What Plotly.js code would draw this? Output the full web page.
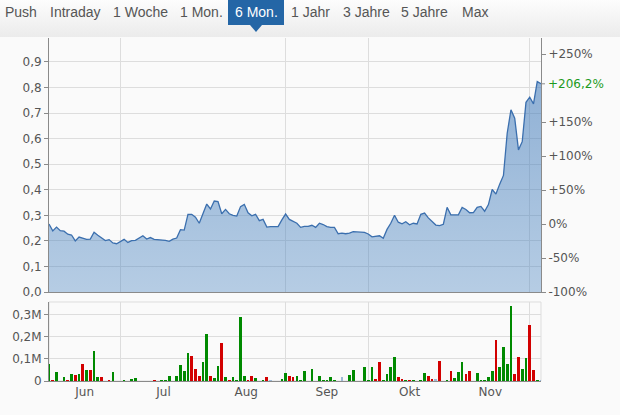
<!DOCTYPE html>
<html><head><meta charset="utf-8">
<script src="https://cdn.plot.ly/plotly-3.0.1.min.js"></script>
<style>
html,body{margin:0;padding:0;}
body{width:620px;height:415px;overflow:hidden;background:linear-gradient(to bottom,#fdfdfd 0px,#ebebeb 37px,#fafafa 37px,#fafafa 100%);}
#chart{width:620px;height:415px;}
</style></head><body><div id="chart"></div>
<script>
// ---------- data ----------
const startDate = '2020-06-04';
const endDate = '2020-12-04';
const prices = [
 0.266,0.239,0.254,0.240,0.238,0.226,0.223,0.200,0.215,0.210,
 0.206,0.207,0.234,0.222,0.213,0.201,0.205,0.192,0.189,0.198,
 0.206,0.194,0.201,0.202,0.210,0.220,0.207,0.213,0.206,0.205,
 0.203,0.202,0.198,0.207,0.211,0.244,0.242,0.304,0.304,0.293,
 0.269,0.304,0.344,0.325,0.356,0.354,0.306,0.323,0.306,0.300,
 0.297,0.334,0.343,0.310,0.298,0.304,0.279,0.284,0.254,0.256,
 0.257,0.256,0.282,0.305,0.284,0.278,0.269,0.253,0.257,0.257,
 0.261,0.253,0.269,0.264,0.256,0.253,0.253,0.228,0.230,0.228,
 0.230,0.236,0.234,0.234,0.233,0.227,0.216,0.219,0.220,0.210,
 0.245,0.269,0.300,0.273,0.267,0.275,0.263,0.269,0.266,0.304,
 0.309,0.290,0.275,0.262,0.260,0.265,0.331,0.302,0.302,0.302,
 0.331,0.323,0.310,0.311,0.331,0.335,0.316,0.342,0.401,0.383,
 0.422,0.456,0.621,0.713,0.680,0.556,0.588,0.742,0.762,0.736,
 0.823,0.8145
];
const volumesK = [
 76,5,40,0,18,4,31,27,31,76,
 50,50,135,18,18,0,5,40,0,0,
 5,0,9,13,0,0,0,0,4,0,
 4,4,22,0,22,72,45,126,112,54,
 22,85,211,22,13,67,171,18,4,18,
 4,288,22,4,22,13,0,4,18,4,
 0,0,9,36,22,18,22,4,45,0,
 54,0,22,4,4,18,4,0,18,0,
 27,50,0,0,63,4,63,9,85,4,
 31,63,108,18,9,4,4,4,0,4,
 36,22,9,9,90,0,4,45,13,40,
 85,31,45,0,36,4,4,18,45,184,
 63,153,76,337,31,108,54,103,252,50,
 4,3
];
// u = up day, d = down day, n = unchanged
const directions = ("uduuududud"+"uduududuuu"+"uuuuuuuudu"+"uuuuuuuudd"+"duuduududu"+
  "uuudduuudn"+"uuuudduuuu"+"uuuuuuuunu"+"uuuuuuuddu"+"uuudduduuu"+
  "uddnduuduu"+"udduuuuuud"+"uuuudduudd"+"un").split('');
const tabs = ['Push','Intraday','1 Woche','1 Mon.','6 Mon.','1 Jahr','3 Jahre','5 Jahre','Max'];
const selectedTab = '6 Mon.';
const pctTicks = [-100,-50,0,50,100,150,250];
const pctLabels = ['-100%','-50%','0%','+50%','+100%','+150%','+250%'];
const volTicks = [0,100000,200000,300000];
const volLabels = ['0','0,1M','0,2M','0,3M'];
const shortMonths = ['Jan','Feb','Mär','Apr','Mai','Jun','Jul','Aug','Sep','Okt','Nov','Dez'];

// ---------- trading calendar (weekdays) ----------
function tradingDays(a, b) {
  const out = []; let d = new Date(a + 'T00:00:00Z'); const e = new Date(b + 'T00:00:00Z');
  while (d <= e) { const w = d.getUTCDay(); if (w !== 0 && w !== 6) out.push(d.toISOString().slice(0, 10)); d = new Date(d.getTime() + 86400000); }
  return out;
}
const dates = tradingDays(startDate, endDate);

// month boundaries (gridlines) and month label positions (centre of visible part)
const monthStarts = [], labelVals = [], labelText = [];
{
  const firstIdx = [];
  dates.forEach((d, i) => { if (i === 0 || d.slice(0, 7) !== dates[i - 1].slice(0, 7)) firstIdx.push(i); });
  firstIdx.forEach((s, k) => {
    const e = k + 1 < firstIdx.length ? firstIdx[k + 1] : dates.length - 1;
    if (s > 0) monthStarts.push(dates[s].slice(0, 7) + '-01');
    if (e - s >= 5) {
      const mid = (s + e) / 2, i0 = Math.floor(mid), frac = mid - i0;
      const t = new Date(dates[i0] + 'T00:00:00Z').getTime() + frac * 86400000;
      labelVals.push(new Date(t).toISOString().slice(0, 19).replace('T', ' '));
      labelText.push(shortMonths[parseInt(dates[s].slice(5, 7), 10) - 1]);
    }
  });
}

// ---------- layout geometry (pixels) ----------
const FIG_W = 620, FIG_H = 415;
const L = 49, R = 541, T = 38, B = 381;
const W = R - L, H = B - T;
const px = p => (p - L) / W;
const py = p => (B - p) / H;
const MAIN_BOTTOM = 292, VOL_TOP = 302;
const Y_TOP = 0.9937;

const base = prices[0];
const last = prices[prices.length - 1];
const pctTop = (Y_TOP / base - 1) * 100;
const lastPct = (last / base - 1) * 100;
const pctSeries = prices.map(p => (p / base - 1) * 100);

const colorMap = {u:'#008a00', d:'#d20000', n:'#9db9d6'};
const grey = '#8a8a8a', grid = '#dddddd', txt = '#555555';
const tickFont = {family:'DejaVu Sans, Verdana, sans-serif', size:12, color:txt};

const traces = [
  {x:dates, y:prices, xaxis:'x', yaxis:'y', type:'scatter', mode:'lines',
   line:{color:'#3b6fae', width:1.3}, fill:'tozeroy',
   fillgradient:{type:'vertical', start:0, stop:0.85,
     colorscale:[[0,'rgba(70,130,192,0.38)'],[1,'rgba(65,122,185,0.58)']]},
   hoverinfo:'skip', showlegend:false},
  {x:dates, y:pctSeries, xaxis:'x', yaxis:'y2', type:'scatter', mode:'lines',
   line:{color:'rgba(0,0,0,0)', width:0}, opacity:0, hoverinfo:'skip', showlegend:false},
  {x:dates, y:volumesK.map(v => v * 1000), xaxis:'x2', yaxis:'y3', type:'bar',
   width:0.72 * 86400000, marker:{color:directions.map(d => colorMap[d]), line:{width:0}},
   hoverinfo:'skip', showlegend:false}
];

const rb = [{bounds:['sat','mon']}];
const tabCentres = [21,75,140,201,256,310,366,424,475];
const annotations = tabs.map((t, i) => ({
  text:t, xref:'paper', yref:'paper', x:px(tabCentres[i]), y:py(12.5),
  xanchor:'center', yanchor:'middle', showarrow:false,
  font:{family:'Liberation Sans, Arial, sans-serif', size:14, color:t === selectedTab ? '#ffffff' : txt}
}));
annotations.push({text:'+' + lastPct.toFixed(1).replace('.', ',') + '%', xref:'paper', yref:'y2',
  x:1, y:lastPct, xanchor:'left', yanchor:'middle', xshift:5, showarrow:false,
  font:{family:'DejaVu Sans, Verdana, sans-serif', size:12, color:'#1d9a1d'}});

const shapes = [
  {type:'rect', xref:'paper', yref:'paper', x0:px(228), x1:px(284), y0:py(25), y1:py(0),
   fillcolor:'#2466a6', line:{width:0}, layer:'below'},
  {type:'path', xref:'paper', yref:'paper',
   path:`M ${px(250)} ${py(25)} L ${px(262)} ${py(25)} L ${px(256)} ${py(32)} Z`,
   fillcolor:'#2466a6', line:{width:0}},
  {type:'line', xref:'paper', yref:'y2', x0:1, x1:1 + 4 / W, y0:lastPct, y1:lastPct,
   line:{color:grey, width:1}},
  {type:'rect', xref:'paper', yref:'paper', x0:0, x1:1, y0:0, y1:py(VOL_TOP),
   line:{color:grid, width:1}, fillcolor:'rgba(0,0,0,0)', layer:'below'}
];

const layout = {
  width:FIG_W, height:FIG_H, margin:{l:L, r:FIG_W - R, t:T, b:FIG_H - B, pad:0},
  paper_bgcolor:'rgba(0,0,0,0)', plot_bgcolor:'#fafafa', showlegend:false,
  separators:',.', hovermode:false, bargap:0,
  font:tickFont,
  xaxis:{type:'date', range:[startDate, endDate], rangebreaks:rb, anchor:'y',
    tickmode:'array', tickvals:monthStarts, showticklabels:false, ticks:'',
    showgrid:true, gridcolor:grid, gridwidth:1, showline:true, linecolor:grey, linewidth:1, zeroline:false},
  xaxis2:{type:'date', matches:'x', range:[startDate, endDate], rangebreaks:rb, anchor:'y3',
    tickmode:'array', tickvals:labelVals, ticktext:labelText, ticks:'',
    tickfont:tickFont, showgrid:false,
    minor:{tickmode:'array', tickvals:monthStarts, showgrid:true, gridcolor:grid, gridwidth:1, ticks:''},
    showline:true, linecolor:grey, linewidth:1, zeroline:false},
  yaxis:{domain:[py(MAIN_BOTTOM), 1], range:[0, Y_TOP], dtick:0.1, tick0:0, tickformat:'.1f',
    ticks:'outside', ticklen:4, tickcolor:grey, tickfont:tickFont,
    showline:true, linecolor:grey, linewidth:1, showgrid:true, gridcolor:grid, zeroline:false},
  yaxis2:{overlaying:'y', side:'right', anchor:'x', range:[-100, pctTop],
    tickvals:pctTicks, ticktext:pctLabels, ticks:'outside', ticklen:4, tickcolor:grey,
    tickfont:tickFont, showline:true, linecolor:grey, linewidth:1, showgrid:false, zeroline:false},
  yaxis3:{domain:[0, py(VOL_TOP)], anchor:'x2', range:[0, 356000],
    tickvals:volTicks, ticktext:volLabels, ticks:'outside', ticklen:4, tickcolor:grey,
    tickfont:tickFont, showline:true, linecolor:grey, linewidth:1, showgrid:true, gridcolor:grid, zeroline:false},
  annotations:annotations, shapes:shapes
};

Plotly.newPlot('chart', traces, layout, {staticPlot:true, displayModeBar:false});
</script></body></html>
